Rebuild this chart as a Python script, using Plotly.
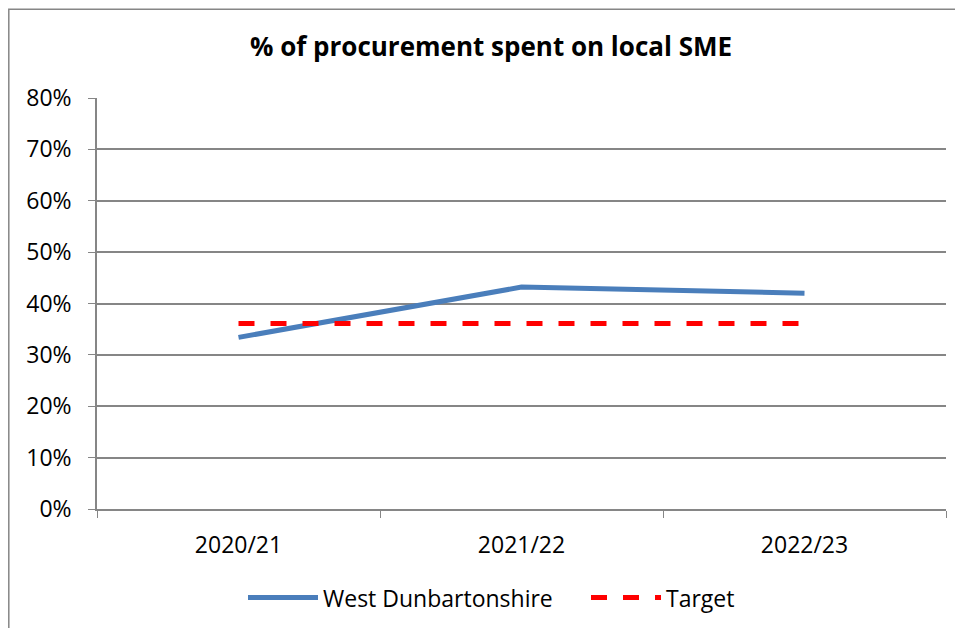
import plotly.graph_objects as go

categories = ["2020/21", "2021/22", "2022/23"]
west_dunbartonshire = [33.4, 43.2, 42.0]
target = [36.1, 36.1, 36.1]
y_ticks = [0, 10, 20, 30, 40, 50, 60, 70, 80]
y_tick_labels = ["0%", "10%", "20%", "30%", "40%", "50%", "60%", "70%", "80%"]

FONT = "Open Sans"
# page body has an 8px margin; figure sized so the page fits the window
W, H = 947, 620
L, R, T, B = 89, 9, 90, 117
pw, ph = W - L - R, H - T - B

fig = go.Figure()
fig.add_trace(go.Scatter(x=categories, y=west_dunbartonshire, mode="lines",
                         name="West Dunbartonshire",
                         line=dict(color="#4A7EBB", width=5)))
fig.add_trace(go.Scatter(x=categories, y=target, mode="lines", name="Target",
                         line=dict(color="#FF0000", width=5, dash="16px,16px")))

def px_x(x):
    return (x - L) / pw

def px_y(y):
    return (H - B - y) / ph

fig.add_shape(type="rect", xref="paper", yref="paper",
              x0=px_x(0.8), x1=px_x(W + 20), y0=px_y(H + 20), y1=px_y(0.8),
              line=dict(color="#868686", width=1.5), fillcolor="rgba(0,0,0,0)",
              layer="below")

fig.update_layout(
    width=W, height=H,
    margin=dict(l=L, r=R, t=T, b=B),
    paper_bgcolor="white", plot_bgcolor="white",
    font=dict(family=FONT, size=23, color="black"),
    title=dict(text="<b>% of procurement spent on local SME</b>",
               x=483 / W, xanchor="center", xref="container",
               y=1 - 39 / H, yanchor="middle", yref="container",
               font=dict(family=FONT, size=26, color="black")),
    showlegend=True,
    legend=dict(orientation="h", x=px_x(235), xanchor="left",
                y=px_y(592), yanchor="middle", itemwidth=70,
                entrywidth=258, entrywidthmode="pixels",
                font=dict(family=FONT, size=23, color="black"),
                traceorder="normal"),
    xaxis=dict(type="category", range=[-0.5, 2.5], tickson="boundaries",
               ticks="outside", ticklen=7, tickcolor="#868686",
               showline=True, linecolor="#868686", linewidth=1.5,
               showgrid=False, ticklabelstandoff=15,
               tickfont=dict(family=FONT, size=23)),
    yaxis=dict(range=[0, 80], tickvals=y_ticks, ticktext=y_tick_labels,
               ticks="outside", ticklen=7, tickcolor="#868686",
               showline=True, linecolor="#868686", linewidth=1.5,
               showgrid=True, gridcolor="#868686", gridwidth=1.5,
               zeroline=False, ticklabelstandoff=12,
               tickfont=dict(family=FONT, size=23)),
)

fig.write_html("out.html")
